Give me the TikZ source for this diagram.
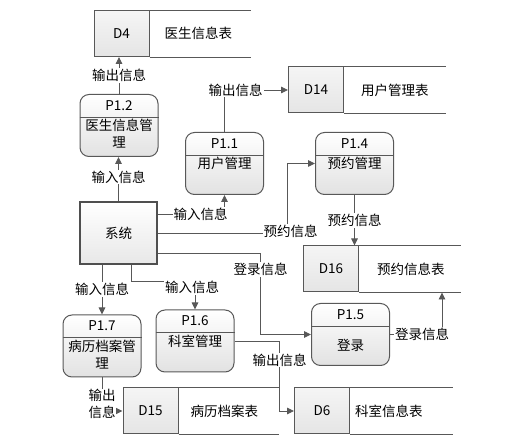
\documentclass[tikz,border=0pt]{standalone}
\usepackage{fontspec}
\setmainfont{Noto Sans CJK SC}
\usetikzlibrary{positioning,arrows.meta,calc}
\definecolor{linegray}{RGB}{88,88,88}
\definecolor{fillgray}{RGB}{226,226,226}
\tikzset{
  proc/.style   = {draw=linegray, line width=1pt, rounded corners=9pt, minimum width=78pt, minimum height=62pt, top color=white, bottom color=fillgray, inner sep=0pt},
  sysbox/.style = {draw=linegray!90!black, line width=1.1pt, minimum width=77pt, minimum height=62pt, top color=white, bottom color=fillgray!80},
  dsid/.style   = {draw=linegray, line width=1pt, minimum width=55pt, minimum height=46pt, top color=white!96!black, bottom color=fillgray!90},
  dsname/.style = {anchor=west, inner sep=0pt},
  hdr/.style    = {draw=linegray, line width=0.9pt},
  flow/.style   = {-{Triangle[length=7pt,width=6.5pt]}, draw=linegray, line width=0.9pt},
  lbl/.style    = {fill=white, inner sep=1pt, align=center},
}
\begin{document}
\begin{tikzpicture}[x=1pt, y=-1pt, font=\fontsize{13.5}{17}\selectfont]
  \useasboundingbox (0,0) rectangle (520,443);
  % system
  \node[sysbox] (sys) at (118.5,233) {系统};
  % processes
  \node[proc] (p12) at (119,125.5) {};
  \node (p12id) at ($(p12.north)+(0,11.5)$) {P1.2};
  \node[anchor=north, align=center, inner sep=1pt] (p12tx) at ($(p12.north)+(0,24)$) {医生信息管\\理};
  \draw[hdr] ($(p12.north west)+(0,23)$) -- ($(p12.north east)+(0,23)$);
  \node[proc] (p11) at (224.5,163.5) {};
  \node (p11id) at ($(p11.north)+(0,11.5)$) {P1.1};
  \node[anchor=north, inner sep=1pt] (p11tx) at ($(p11.north)+(0,24)$) {用户管理};
  \draw[hdr] ($(p11.north west)+(0,23)$) -- ($(p11.north east)+(0,23)$);
  \node[proc] (p14) at (354.5,163.5) {};
  \node (p14id) at ($(p14.north)+(0,11.5)$) {P1.4};
  \node[anchor=north, inner sep=1pt] (p14tx) at ($(p14.north)+(0,24)$) {预约管理};
  \draw[hdr] ($(p14.north west)+(0,23)$) -- ($(p14.north east)+(0,23)$);
  \node[proc] (p15) at (350.5,334.5) {};
  \node (p15id) at ($(p15.north)+(0,11.5)$) {P1.5};
  \node (p15tx) at ($(p15.north)+(0,42)$) {登录};
  \draw[hdr] ($(p15.north west)+(0,23)$) -- ($(p15.north east)+(0,23)$);
  \node[proc] (p17) at (102,346) {};
  \node (p17id) at ($(p17.north)+(0,11.5)$) {P1.7};
  \node[anchor=north, align=center, inner sep=1pt] (p17tx) at ($(p17.north)+(0,24)$) {病历档案管\\理};
  \draw[hdr] ($(p17.north west)+(0,23)$) -- ($(p17.north east)+(0,23)$);
  \node[proc] (p16) at (195,341) {};
  \node (p16id) at ($(p16.north)+(0,11.5)$) {P1.6};
  \node[anchor=north, inner sep=1pt] (p16tx) at ($(p16.north)+(0,24)$) {科室管理};
  \draw[hdr] ($(p16.north west)+(0,23)$) -- ($(p16.north east)+(0,23)$);
  % data stores
  \node[dsid] (d4) at (121.5,33.5) {D4};
  \node[dsname] (d4n) at ($(d4.east)+(15,0)$) {医生信息表};
  \draw[hdr] (d4.north east) -- ++(101,0) (d4.south east) -- ++(101,0);
  \node[dsid] (d14) at (316,90) {D14};
  \node[dsname] (d14n) at ($(d14.east)+(17,0)$) {用户管理表};
  \draw[hdr] (d14.north east) -- ++(102,0) (d14.south east) -- ++(102,0);
  \node[dsid] (d16) at (331,269) {D16};
  \node[dsname] (d16n) at ($(d16.east)+(18,0)$) {预约信息表};
  \draw[hdr] (d16.north east) -- ++(102,0) (d16.south east) -- ++(102,0);
  \node[dsid] (d15) at (150.5,411) {D15};
  \node[dsname] (d15n) at ($(d15.east)+(12,0)$) {病历档案表};
  \draw[hdr] (d15.north east) -- ++(100,0) (d15.south east) -- ++(100,0);
  \node[dsid] (d6) at (322,411) {D6};
  \node[dsname] (d6n) at ($(d6.east)+(5,0)$) {科室信息表};
  \draw[hdr] (d6.north east) -- ++(103,0) (d6.south east) -- ++(103,0);
  \coordinate (d16b) at ($(d16.south east)+(83,0)$);
  % flows
  \draw[flow] (sys.north) -- node[lbl, pos=0.55]{输入信息} (sys.north |- p12.south);
  \draw[flow] (p12.north) -- node[lbl]{输出信息} (p12.north |- d4.south);
  \draw[flow] (p11.north) |- node[lbl, pos=0.5, xshift=11pt]{输出信息} (d14.west);
  \draw[flow] ($(sys.north east)+(0,13)$) -| node[lbl, pos=0.5, xshift=-24pt]{输入信息} (p11.south);
  \draw[flow] (sys.east) -- ++(130,0) node[lbl, xshift=3pt, yshift=2pt]{预约信息} |- (p14.west);
  \draw[flow] ($(sys.south east)+(0,-11)$) -- ++(103,0) -- ++(0,16) node[lbl]{登录信息} |- (p15.west);
  \draw[flow] (p14.south) -- node[lbl]{预约信息} (p14.south |- d16.north);
  \draw[flow] (p15.east) -| node[lbl, pos=0.5, xshift=-20pt]{登录信息} (d16b);
  \draw[flow] (sys.south -| p17.north) -- node[lbl]{输入信息} (p17.north);
  \draw[flow] ($(sys.south)+(12.5,0)$) -- ++(0,17) -| node[lbl, pos=0.5, xshift=-3pt, yshift=-6pt]{输入信息} (p16.north);
  \draw[flow] (p16.east) -- ++(45,0) -- ++(0,19) node[lbl]{输出信息} |- (d6.west);
  \draw[flow] (p17.south) |- node[lbl, inner sep=0pt, pos=0.5, yshift=7pt]{输出\\信息} (d15.west);
\end{tikzpicture}
\end{document}
